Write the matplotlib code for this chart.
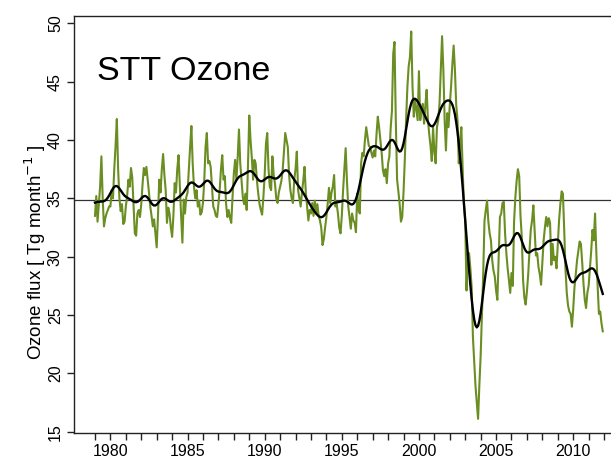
import numpy as np
import matplotlib
matplotlib.use("Agg")
import matplotlib.pyplot as plt

start_year = 1979
title_text = "STT Ozone"
ylabel_text = r"Ozone flux [ Tg month$^{-1}$ ]"
ref_level = 34.9
year_ticks = list(range(1979, 2013))
year_labels = [str(y) if y % 5 == 0 else "" for y in year_ticks]
y_ticks = [15, 20, 25, 30, 35, 40, 45, 50]

flux_1979_1984 = [
    33.5, 35.2, 33.0, 34.5, 36.0, 38.6, 35.0, 32.6, 33.3, 33.7, 34.0, 34.3,
    34.3, 35.7, 35.0, 37.5, 39.5, 41.8, 37.5, 35.0, 33.9, 34.5, 32.8, 33.0,
    34.3, 35.2, 36.6, 36.0, 37.6, 36.8, 34.3, 32.0, 31.8, 33.7, 34.0, 33.4,
    34.5, 36.2, 37.6, 37.0, 37.7, 36.6, 35.5, 34.3, 33.5, 32.6, 33.2, 32.0,
    30.8, 33.5, 36.6, 35.5, 37.5, 38.8, 37.0, 35.7, 32.9, 34.2, 33.7, 32.5,
    31.7, 33.5, 36.3, 35.5, 37.5, 38.7, 36.0, 33.5, 31.2, 34.9, 33.7, 35.1,
]
flux_1985_1990 = [
    35.5, 37.5, 39.4, 41.2, 38.0, 36.0, 35.0, 35.7, 34.3, 34.8, 33.6, 33.8,
    34.6, 36.5, 39.4, 40.6, 38.0, 38.2, 37.7, 36.0, 34.3, 34.0, 33.5, 33.4,
    34.5, 35.7, 37.5, 38.7, 36.6, 36.9, 34.5, 33.4, 34.0, 33.3, 32.9, 35.1,
    37.1, 38.3, 36.6, 38.5, 40.9, 38.0, 36.6, 35.1, 34.5, 35.4, 34.0, 37.7,
    42.1, 40.0, 38.5, 36.6, 38.3, 38.0, 36.5, 35.4, 34.5, 34.0, 33.6, 35.1,
    37.0, 39.7, 40.6, 37.5, 36.0, 35.7, 38.6, 37.0, 36.3, 35.0, 34.6, 35.5,
]
flux_1991_1996 = [
    36.0, 36.5, 37.4, 39.0, 40.6, 40.0, 39.4, 37.0, 35.7, 35.0, 34.6, 36.6,
    37.5, 39.0, 35.7, 35.0, 34.3, 35.5, 36.5, 37.7, 35.5, 34.3, 33.1, 34.0,
    33.7, 34.6, 33.5, 34.8, 33.7, 34.5, 33.5, 33.1, 32.5, 31.0, 31.5, 32.5,
    33.4, 34.5, 35.9, 34.6, 35.5, 36.0, 37.0, 34.3, 34.5, 33.7, 32.5, 32.0,
    33.5, 35.7, 37.5, 39.3, 36.5, 34.3, 33.4, 32.4, 33.7, 33.1, 32.9, 32.1,
    35.4, 34.0, 33.7, 38.0, 38.9, 38.6, 40.0, 41.1, 40.3, 39.5, 39.4, 38.9,
]
flux_1997_2002 = [
    38.5, 39.1, 38.6, 40.5, 42.0, 41.1, 40.0, 38.9, 37.4, 36.9, 37.5, 36.3,
    38.0, 38.6, 41.0, 42.5, 47.4, 48.4, 41.7, 36.6, 35.6, 34.5, 33.0, 33.4,
    35.5, 38.3, 41.7, 44.5, 46.3, 47.1, 49.3, 44.6, 42.0, 43.5, 42.6, 41.7,
    45.9, 41.7, 42.5, 43.1, 41.4, 43.0, 44.3, 41.7, 40.5, 39.5, 38.2, 41.1,
    39.0, 38.0, 41.1, 41.7, 43.1, 46.0, 48.9, 46.0, 41.7, 39.1, 42.3, 41.1,
    43.0, 44.6, 46.5, 48.1, 46.0, 43.0, 41.7, 38.0, 40.0, 41.1, 37.5, 34.5,
]
flux_2003_2008 = [
    33.1, 27.1, 30.3, 30.3, 29.0, 27.4, 23.1, 21.0, 18.9, 17.5, 16.1, 19.0,
    21.5, 25.0, 28.5, 33.1, 34.0, 34.8, 33.0, 32.0, 31.4, 29.7, 28.8, 28.3,
    27.1, 26.3, 30.0, 33.4, 33.7, 34.6, 34.7, 32.0, 30.3, 29.0, 28.0, 26.9,
    28.6, 27.5, 33.0, 35.1, 36.5, 37.5, 36.9, 33.5, 31.7, 28.0, 26.5, 25.9,
    27.0, 28.5, 30.5, 32.3, 33.1, 34.4, 32.3, 30.1, 30.3, 29.1, 28.5, 27.6,
    29.5, 31.4, 32.5, 33.4, 32.6, 33.3, 32.9, 29.3, 31.1, 29.7, 30.0, 29.0,
]
flux_2009_2011 = [
    31.1, 33.1, 34.5, 35.6, 35.4, 32.3, 28.9, 26.9, 25.8, 25.3, 25.1, 24.0,
    25.5, 27.4, 28.5, 29.7, 30.5, 31.3, 31.1, 29.5, 27.7, 26.3, 25.6, 26.9,
    27.5, 29.0, 30.5, 32.3, 31.4, 33.7, 30.3, 27.5, 25.1, 25.3, 24.3, 23.6,
]

flux = np.array(flux_1979_1984 + flux_1985_1990 + flux_1991_1996
                + flux_1997_2002 + flux_2003_2008 + flux_2009_2011)
time = start_year + np.arange(len(flux)) / 12.0

# Gaussian-kernel smoother of the monthly series
sigma_months = 4.5
idx = np.arange(len(flux))
w = np.exp(-0.5 * ((idx[:, None] - idx[None, :]) / sigma_months) ** 2)
smooth = (w @ flux) / w.sum(axis=1)

W, H, DPI = 611, 458, 100
fig = plt.figure(figsize=(W / DPI, H / DPI), dpi=DPI)
ax = fig.add_axes([74 / W, 25 / H, 1 - 74 / W, (433 - 15.5) / H])

font = "Liberation Sans"
ax.plot(time, flux, color="#6B8E23", lw=1.5, zorder=2)
ax.plot(time, smooth, color="black", lw=1.7, zorder=3)
ax.axhline(ref_level, color="#333333", lw=0.9, zorder=1)

ax.set_xlim(1977.64, 2012.45)
ax.set_ylim(14.89, 50.67)
ax.spines["right"].set_visible(False)
for s in ["left", "top", "bottom"]:
    ax.spines[s].set_linewidth(1.0)
    ax.spines[s].set_color("#222222")

ax.set_xticks(year_ticks)
ax.set_xticklabels(year_labels, fontsize=11.5, family=font)
ax.set_yticks(y_ticks)
ax.set_yticklabels([str(v) for v in y_ticks], fontsize=11.5, family=font,
                   rotation=90, va="center")
ax.tick_params(axis="both", direction="out", length=5, width=1.0, color="#222222")
ax.tick_params(axis="x", pad=3)
ax.tick_params(axis="y", pad=3)

fig.text(35 / W, (H - 252) / H, ylabel_text, fontsize=13.5, family=font,
         rotation=90, ha="center", va="center")
ax.text(1979.1, 45.14, title_text, fontsize=24.5, family=font,
        ha="left", va="baseline")

fig.savefig("out.png", dpi=DPI)
